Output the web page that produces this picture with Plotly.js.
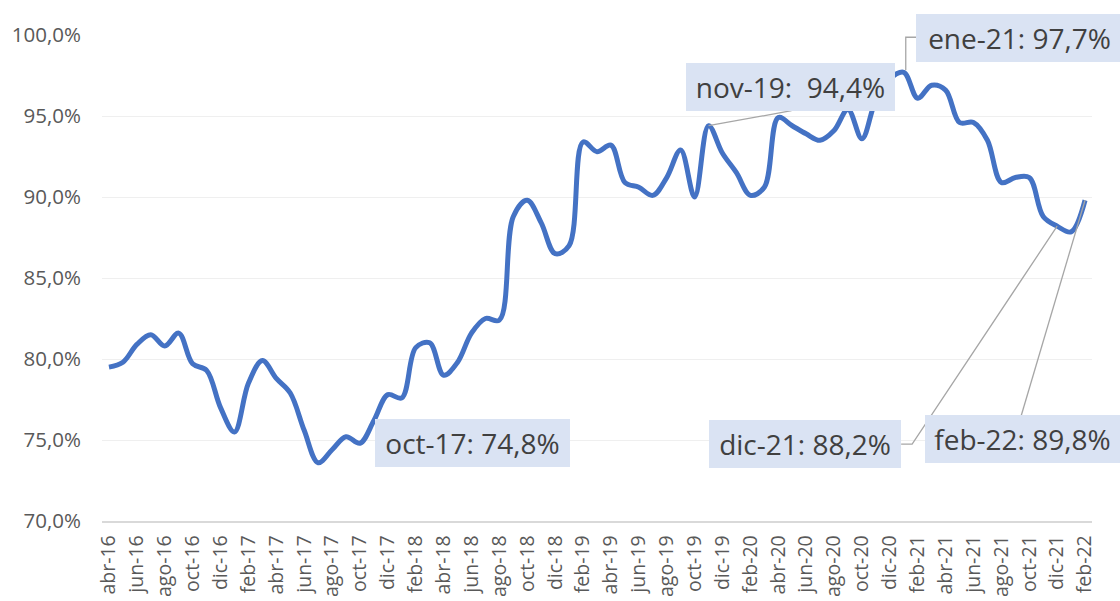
<!DOCTYPE html>
<html>
<head>
<meta charset="utf-8">
<script src="https://cdn.plot.ly/plotly-3.0.1.min.js"></script>
<style>
  html, body { margin: 0; padding: 0; background: #fff; }
  #chart { width: 1120px; height: 601px; }
</style>
</head>
<body>
<div id="chart"></div>
<script>
// monthly categories abr-16 .. feb-22
var months = [
  "abr-16", "may-16", "jun-16", "jul-16", "ago-16", "sep-16", "oct-16", "nov-16", "dic-16",
  "ene-17", "feb-17", "mar-17", "abr-17", "may-17", "jun-17", "jul-17", "ago-17", "sep-17", "oct-17", "nov-17", "dic-17",
  "ene-18", "feb-18", "mar-18", "abr-18", "may-18", "jun-18", "jul-18", "ago-18", "sep-18", "oct-18", "nov-18", "dic-18",
  "ene-19", "feb-19", "mar-19", "abr-19", "may-19", "jun-19", "jul-19", "ago-19", "sep-19", "oct-19", "nov-19", "dic-19",
  "ene-20", "feb-20", "mar-20", "abr-20", "may-20", "jun-20", "jul-20", "ago-20", "sep-20", "oct-20", "nov-20", "dic-20",
  "ene-21", "feb-21", "mar-21", "abr-21", "may-21", "jun-21", "jul-21", "ago-21", "sep-21", "oct-21", "nov-21", "dic-21",
  "ene-22", "feb-22"
];

// percent values
var values = [
  79.5, 79.8, 80.9, 81.5, 80.8, 81.6, 79.7, 79.3, 77.0,
  75.5, 78.5, 79.9, 78.8, 77.9, 75.6, 73.6, 74.4, 75.2, 74.8, 76.2, 77.8,
  77.6, 80.7, 81.0, 79.0, 79.8, 81.6, 82.5, 82.4, 88.8, 89.8, 88.4, 86.5,
  87.0, 93.4, 92.8, 93.2, 90.9, 90.6, 90.1, 91.2, 92.9, 90.0, 94.4, 92.7,
  91.5, 90.1, 90.6, 94.9, 94.4, 93.9, 93.5, 94.1, 95.4, 93.6, 96.0, 97.3,
  97.7, 96.1, 96.9, 96.6, 94.6, 94.6, 93.5, 90.9, 91.2, 91.2, 88.8, 88.2,
  87.85, 89.8
];

// every second month gets a tick label
var tickMonths = months.filter(function (m, i) { return i % 2 === 0; });

var yTicks = [70, 75, 80, 85, 90, 95, 100];

// labelled points
var labelMonths = ["oct-17", "nov-19", "ene-21", "dic-21", "feb-22"];

function valueOf(m) { return values[months.indexOf(m)]; }
function fmt(v) { return v.toFixed(1).replace(".", ",") + "%"; }

// label box placement (pixels relative to the point) and leader lines
var labelStyle = {
  "oct-17": { dx: 113, dy: 0, w: 187, sep: ": ", leader: null },
  "nov-19": { dx: 82, dy: 39, w: 201, sep: ":\u00a0 ", leader: "M0,0L83,15" },
  "ene-21": { dx: 116, dy: 34, w: 199, sep: ": ", leader: "M2,2L2,35L15,35" },
  "dic-21": { dx: -252, dy: -218, w: 184, sep: ": ", leader: "M0,0L-145,-218L-156,-218" },
  "feb-22": { dx: -63, dy: -239, w: 187, sep: ": ", leader: "M0,0L-64,-216" }
};

var annotations = [];
var shapes = [];
labelMonths.forEach(function (m) {
  var s = labelStyle[m];
  var v = valueOf(m);
  annotations.push({
    x: m, y: v, xref: "x", yref: "y",
    text: m + s.sep + fmt(v),
    showarrow: false,
    xanchor: "center", yanchor: "middle",
    xshift: s.dx, yshift: s.dy,
    width: s.w, height: 40,
    bgcolor: "#dae3f3",
    borderpad: 4, borderwidth: 0,
    font: { family: "Open Sans", size: 28, color: "#404040" }
  });
  if (s.leader) {
    shapes.push({
      type: "path", xref: "x", yref: "y",
      xsizemode: "pixel", ysizemode: "pixel",
      xanchor: m, yanchor: v,
      path: s.leader,
      line: { color: "#a6a6a6", width: 1.3 },
      layer: "above"
    });
  }
});

var data = [{
  x: months,
  y: values,
  type: "scatter",
  mode: "lines",
  line: { color: "#4472c4", width: 5, shape: "spline", smoothing: 1 },
  hoverinfo: "skip"
}];

var layout = {
  width: 1120,
  height: 601,
  margin: { l: 102, r: 28, t: 35, b: 80 },
  paper_bgcolor: "#ffffff",
  plot_bgcolor: "#ffffff",
  showlegend: false,
  font: { family: "Open Sans", color: "#595959" },
  xaxis: {
    type: "category",
    range: [-0.5, months.length - 0.5],
    tickvals: tickMonths,
    ticktext: tickMonths,
    tickangle: -90,
    ticks: "",
    ticklabelstandoff: 5,
    tickfont: { family: "Open Sans", size: 19.5, color: "#595959" },
    showgrid: false,
    showline: true,
    linecolor: "#d9d9d9",
    linewidth: 1.5,
    zeroline: false,
    fixedrange: true
  },
  yaxis: {
    range: [70, 100],
    tickvals: yTicks,
    ticktext: yTicks.map(fmt),
    ticks: "",
    ticklabelstandoff: 20,
    tickfont: { family: "Open Sans", size: 20.5, color: "#595959" },
    showgrid: true,
    gridcolor: "#efefef",
    gridwidth: 1,
    zeroline: false,
    showline: false,
    fixedrange: true
  },
  annotations: annotations,
  shapes: shapes
};

Plotly.newPlot("chart", data, layout, { displayModeBar: false, staticPlot: true });
</script>
</body>
</html>
